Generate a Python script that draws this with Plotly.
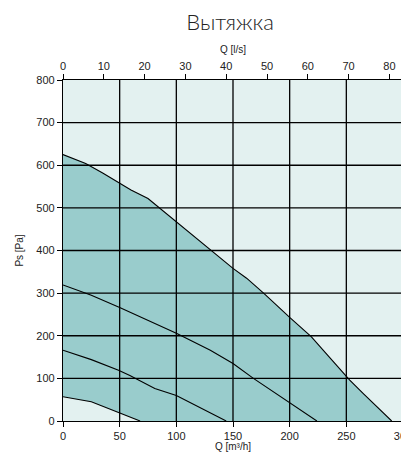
import plotly.graph_objects as go

# Data (Q in m3/h, Ps in Pa)
q_max = [0, 20, 35, 50, 60, 75, 85, 100, 130, 150, 162, 177, 200, 212, 219, 235, 253, 265, 277, 290]
ps_max = [625, 604, 582, 558, 542, 522, 500, 468, 402, 358, 335, 300, 243, 215, 198, 150, 96, 64, 33, 0]

q_c2 = [0, 25, 50, 75, 100, 130, 150, 168, 185, 200, 210, 224]
ps_c2 = [319, 295, 266, 236, 206, 166, 135, 100, 70, 42, 25, 0]

q_c3 = [0, 25, 49, 59, 81, 100, 144]
ps_c3 = [166, 144, 119, 107, 76, 60, 0]

q_min = [0, 25, 49, 59, 68]
ps_min = [57, 45, 20, 9, 0]

x_ticks = [0, 50, 100, 150, 200, 250, 300]
y_ticks = [0, 100, 200, 300, 400, 500, 600, 700, 800]
ls_ticks = [0, 10, 20, 30, 40, 50, 60, 70, 80]

DARK = "#99cccc"
LIGHT = "#e3f1f0"
FONT = "Arial, Liberation Sans, sans-serif"
tick_font = dict(family=FONT, size=11, color="#222")
axis_title_font = dict(family=FONT, size=10, color="#222")

fig = go.Figure()
fig.add_trace(go.Scatter(x=q_max, y=ps_max, mode="lines", fill="tozeroy",
                         fillcolor=DARK, line=dict(color="black", width=1.1),
                         hoverinfo="skip", showlegend=False))
fig.add_trace(go.Scatter(x=q_min, y=ps_min, mode="lines", fill="tozeroy",
                         fillcolor=LIGHT, line=dict(color="black", width=1.1),
                         hoverinfo="skip", showlegend=False))
fig.add_trace(go.Scatter(x=q_c2, y=ps_c2, mode="lines",
                         line=dict(color="black", width=1.1), showlegend=False))
fig.add_trace(go.Scatter(x=q_c3, y=ps_c3, mode="lines",
                         line=dict(color="black", width=1.1), showlegend=False))
# invisible trace for top axis (l/s)
fig.add_trace(go.Scatter(x=[0, 300 / 3.6], y=[0, 0], xaxis="x2", mode="lines",
                         line=dict(width=0), opacity=0, showlegend=False, hoverinfo="skip"))

shapes = []
for v in x_ticks[1:-1]:
    shapes.append(dict(type="line", xref="x", yref="paper", x0=v, x1=v, y0=0, y1=1,
                       line=dict(color="black", width=1.3), layer="above"))
for v in y_ticks[1:-1]:
    shapes.append(dict(type="line", xref="paper", yref="y", x0=0, x1=1, y0=v, y1=v,
                       line=dict(color="black", width=1.3), layer="above"))

fig.update_layout(
    width=401, height=444,
    margin=dict(l=55, r=6, t=72, b=31, autoexpand=False),
    paper_bgcolor="white", plot_bgcolor=LIGHT,
    title=dict(text="Вытяжка", x=0.554, xanchor="center", y=0.968, yanchor="middle",
               font=dict(family="Lato, Noto Sans, sans-serif", size=22, color="#222", weight=300)),
    shapes=shapes,
    xaxis=dict(range=[0, 300], tickvals=x_ticks, showgrid=False, zeroline=False,
               showline=True, linecolor="black", linewidth=1.3, mirror=True,
               ticks="outside", ticklen=5, tickcolor="black", tickfont=tick_font,
               automargin=False, ticklabeloverflow="allow",
               title=dict(text="Q [m³/h]", standoff=2, font=axis_title_font),
               layer="above traces"),
    xaxis2=dict(range=[0, 300 / 3.6], overlaying="x", side="top", tickvals=ls_ticks,
                showgrid=False, zeroline=False, showline=False, automargin=False,
                ticklabeloverflow="allow",
                ticks="outside", ticklen=5, tickcolor="black", tickfont=tick_font,
                title=dict(text="Q [l/s]", standoff=4, font=axis_title_font)),
    yaxis=dict(range=[0, 800], tickvals=y_ticks, showgrid=False, zeroline=False,
               showline=True, linecolor="black", linewidth=1.3, mirror=True,
               ticks="outside", ticklen=5, tickcolor="black", tickfont=tick_font,
               automargin=False,
               title=dict(text="Ps [Pa]", standoff=10, font=axis_title_font),
               layer="above traces"),
)

fig.write_html("out.html")
